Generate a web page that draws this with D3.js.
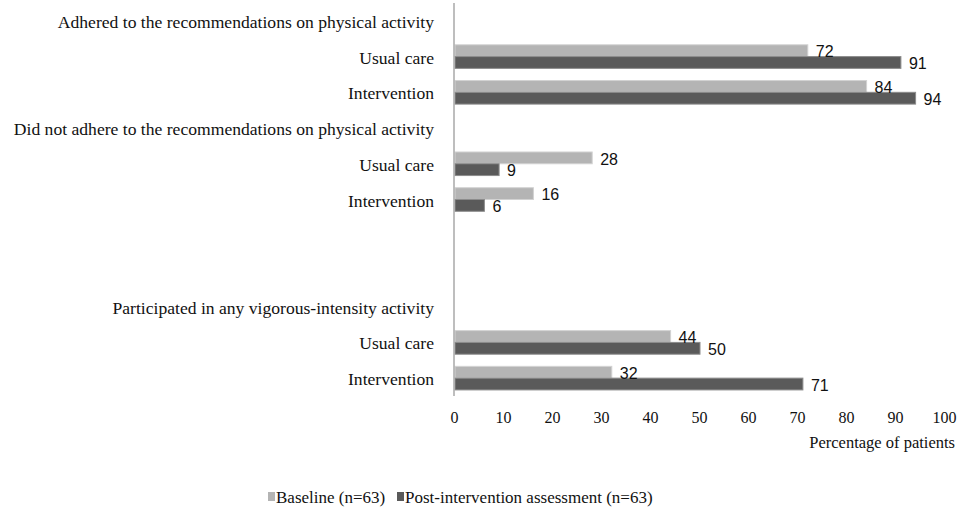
<!DOCTYPE html>
<html>
<head>
<meta charset="utf-8">
<script src="https://cdn.jsdelivr.net/npm/d3@7"></script>
<style>
  body { margin: 0; background: #fff; }
  svg { display: block; }
  .rowLabel { font-family: 'Liberation Serif', 'Times New Roman', serif; font-size: 17.6px; fill: #111; }
  .valueLabel { font-family: 'Liberation Sans', Arial, sans-serif; font-size: 16px; fill: #111; }
  .x.axis text { font-family: 'Liberation Serif', 'Times New Roman', serif; font-size: 16px; fill: #111; }
  .xLabel { font-family: 'Liberation Serif', 'Times New Roman', serif; font-size: 16.5px; fill: #111; }
  .legend text { font-family: 'Liberation Serif', 'Times New Roman', serif; font-size: 17px; fill: #111; }
</style>
</head>
<body>
<div id="chart"></div>
<script>
// Rows from top to bottom; headers and empty spacer rows carry no bars.
const rowLabels = [
  'Adhered to the recommendations on physical activity',
  'Usual care',
  'Intervention',
  'Did not adhere to the recommendations on physical activity',
  'Usual care',
  'Intervention',
  '',
  '',
  'Participated in any vigorous-intensity activity',
  'Usual care',
  'Intervention',
];
const baseline = [null, 72, 84, null, 28, 16, null, null, null, 44, 32];
const postIntervention = [null, 91, 94, null, 9, 6, null, null, null, 50, 71];
const seriesNames = ['Baseline (n=63)', 'Post-intervention assessment (n=63)'];
const xTicks = [0, 10, 20, 30, 40, 50, 60, 70, 80, 90, 100];

const imageWidth = 957;
const imageHeight = 516;
const colors = ['#b4b4b4', '#5a5a5a'];
const strokes = ['#d2d2d2', '#8c8c8c'];

const plotLeft = 454;
const plotRight = 944;
const plotTop = 3;
const plotBottom = 396;

const svg = d3.select('#chart').append('svg')
  .attr('width', imageWidth)
  .attr('height', imageHeight);

const x = d3.scaleLinear()
  .domain([0, 100])
  .range([plotLeft, plotRight]);

const y = d3.scaleBand()
  .domain(d3.range(rowLabels.length))
  .range([plotTop, plotBottom]);

// Two bars share about two thirds of each row, centred on it.
const pairHeight = y.bandwidth() * 0.66;
const ySeries = d3.scaleBand()
  .domain([0, 1])
  .range([(y.bandwidth() - pairHeight) / 2, (y.bandwidth() + pairHeight) / 2]);

// Category and header labels, right-aligned against the axis.
svg.append('g')
  .selectAll('text')
  .data(rowLabels)
  .join('text')
  .attr('class', 'rowLabel')
  .attr('text-anchor', 'end')
  .attr('x', plotLeft - 20)
  .attr('y', (d, i) => y(i) + y.bandwidth() / 2)
  .attr('dy', '0.4em')
  .text((d) => d);

// Flatten into one record per bar.
const bars = [];
[baseline, postIntervention].forEach((values, s) => {
  values.forEach((v, i) => {
    if (v !== null) bars.push({ row: i, series: s, value: v });
  });
});

svg.append('g')
  .selectAll('rect')
  .data(bars)
  .join('rect')
  .attr('x', x(0) + 1)
  .attr('y', (d) => y(d.row) + ySeries(d.series))
  .attr('width', (d) => x(d.value) - x(0))
  .attr('height', ySeries.bandwidth())
  .attr('fill', (d) => colors[d.series])
  .attr('stroke', (d) => strokes[d.series])
  .attr('stroke-width', 1);

svg.append('g')
  .selectAll('text')
  .data(bars)
  .join('text')
  .attr('class', 'valueLabel')
  .attr('x', (d) => x(d.value) + 9)
  .attr('y', (d) => y(d.row) + ySeries(d.series) + ySeries.bandwidth() / 2)
  .attr('dy', '0.42em')
  .text((d) => d.value);

// Vertical category axis line.
svg.append('line')
  .attr('x1', plotLeft)
  .attr('x2', plotLeft)
  .attr('y1', plotTop)
  .attr('y2', plotBottom)
  .attr('stroke', '#a8a8a8')
  .attr('stroke-width', 1.5);

// Value axis: labels only, no line or tick marks.
const xAxis = d3.axisBottom(x)
  .tickValues(xTicks)
  .tickSize(0)
  .tickPadding(15.6);
svg.append('g')
  .attr('class', 'x axis')
  .attr('transform', `translate(0,${plotBottom})`)
  .call(xAxis)
  .call((g) => g.select('.domain').remove());

svg.append('text')
  .attr('class', 'xLabel')
  .attr('text-anchor', 'end')
  .attr('x', 955)
  .attr('y', 448)
  .text('Percentage of patients');

// Legend
const legendX = [268, 397];
const legend = svg.append('g')
  .attr('class', 'legend')
  .selectAll('g')
  .data(seriesNames)
  .join('g')
  .attr('transform', (d, i) => `translate(${legendX[i]},503)`);
legend.append('rect')
  .attr('x', 0)
  .attr('y', -11)
  .attr('width', 7)
  .attr('height', 9)
  .attr('fill', (d, i) => colors[i]);
legend.append('text')
  .attr('x', 8)
  .attr('y', 0)
  .text((d) => d);
</script>
</body>
</html>
